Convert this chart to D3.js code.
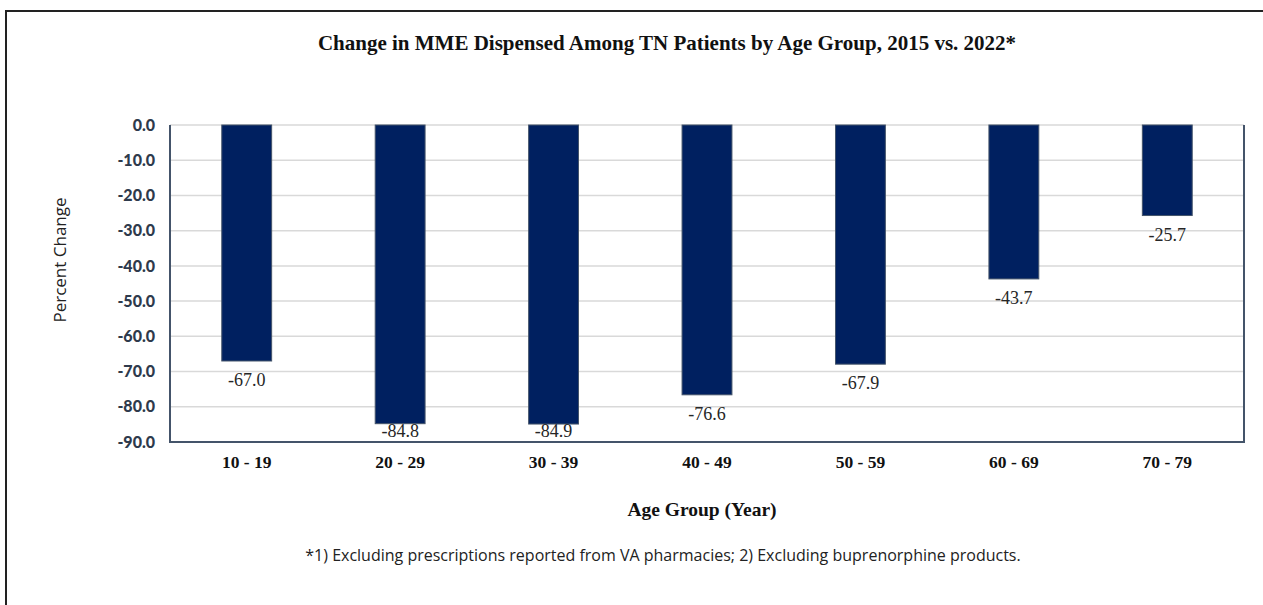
<!DOCTYPE html>
<html>
<head>
<meta charset="utf-8">
<script src="https://cdn.jsdelivr.net/npm/d3@7"></script>
<style>
  body { margin: 0; background: #fff; }
  svg { display: block; }
</style>
</head>
<body>
<svg id="chart" width="1263" height="605"></svg>
<script>
// data
const ageGroups = ['10 - 19', '20 - 29', '30 - 39', '40 - 49', '50 - 59', '60 - 69', '70 - 79']
const pctChange = [-67.0, -84.8, -84.9, -76.6, -67.9, -43.7, -25.7]
const yTicks = [0, -10, -20, -30, -40, -50, -60, -70, -80, -90]

const navy = '#002060'
const slate = '#44546A'
const gridGrey = '#D9D9D9'

const svg = d3.select('#chart')

/* outer frame - only top and left edges show in the crop */
svg.append('rect')
    .attr('x', 6)
    .attr('y', 11)
    .attr('width', 1400)
    .attr('height', 800)
    .attr('fill', 'none')
    .attr('stroke', '#222')
    .attr('stroke-width', 2)

const plot = { left: 170, right: 1244, top: 125, bottom: 442 }

const x = d3.scaleBand()
    .domain(ageGroups)
    .range([plot.left, plot.right])
    .paddingInner(0.675)
    .paddingOuter(0.3375)

const y = d3.scaleLinear()
    .domain([0, -90])
    .range([plot.top, plot.bottom])

// gridlines
svg.append('g')
    .selectAll('line')
    .data(yTicks)
    .join('line')
    .attr('x1', plot.left)
    .attr('x2', plot.right)
    .attr('y1', d => y(d))
    .attr('y2', d => y(d))
    .attr('stroke', gridGrey)
    .attr('stroke-width', 1.5)

// y axis labels (plain hyphen, like Excel)
const yAxis = svg.append('g')
    .attr('transform', `translate(${plot.left},0)`)
    .call(d3.axisLeft(y).tickValues(yTicks).tickFormat(d => d.toFixed(1)).tickSize(0).tickPadding(15))
yAxis.select('.domain').remove()
yAxis.selectAll('text')
    .attr('font-family', 'Lato, sans-serif')
    .attr('font-weight', 900)
    .attr('font-size', 16)
    .attr('fill', '#2E3A4C')

// bars
svg.append('g')
    .selectAll('rect')
    .data(pctChange)
    .join('rect')
    .attr('x', (d, i) => x(ageGroups[i]))
    .attr('y', y(0))
    .attr('width', x.bandwidth())
    .attr('height', d => y(d) - y(0))
    .attr('fill', navy)
    .attr('stroke', slate)
    .attr('stroke-width', 1)

// value labels (Excel pushes them up when they would fall off the plot)
svg.append('g')
    .selectAll('text')
    .data(pctChange)
    .join('text')
    .attr('x', (d, i) => x(ageGroups[i]) + x.bandwidth() / 2)
    .attr('y', d => Math.min(y(d) + 19, plot.bottom - 11))
    .attr('dy', '0.35em')
    .attr('text-anchor', 'middle')
    .attr('font-family', 'Liberation Serif, serif')
    .attr('font-size', 18)
    .attr('fill', '#262626')
    .text(d => d.toFixed(1))

// plot frame: left, bottom and right in slate
svg.append('path')
    .attr('d', `M${plot.left},${plot.top}V${plot.bottom}H${plot.right}V${plot.top}`)
    .attr('fill', 'none')
    .attr('stroke', slate)
    .attr('stroke-width', 2)

// x axis labels
const xAxis = svg.append('g')
    .attr('transform', `translate(0,${plot.bottom})`)
    .call(d3.axisBottom(x).tickSize(0).tickPadding(14))
xAxis.select('.domain').remove()
xAxis.selectAll('text')
    .attr('font-family', 'Liberation Serif, serif')
    .attr('font-weight', 'bold')
    .attr('font-size', 17.5)
    .attr('fill', '#111')

// titles
svg.append('text')
    .attr('x', 667)
    .attr('y', 50)
    .attr('text-anchor', 'middle')
    .attr('font-family', 'Liberation Serif, serif')
    .attr('font-weight', 'bold')
    .attr('font-size', 21)
    .attr('fill', '#111')
    .text('Change in MME Dispensed Among TN Patients by Age Group, 2015 vs. 2022*')

svg.append('text')
    .attr('x', 702)
    .attr('y', 516)
    .attr('text-anchor', 'middle')
    .attr('font-family', 'Liberation Serif, serif')
    .attr('font-weight', 'bold')
    .attr('font-size', 19.5)
    .attr('fill', '#111')
    .text('Age Group (Year)')

svg.append('text')
    .attr('transform', 'translate(66,260) rotate(-90)')
    .attr('text-anchor', 'middle')
    .attr('font-family', 'Open Sans, sans-serif')
    .attr('font-size', 17)
    .attr('fill', '#222')
    .text('Percent Change')

svg.append('text')
    .attr('x', 663)
    .attr('y', 561)
    .attr('text-anchor', 'middle')
    .attr('font-family', 'Open Sans, sans-serif')
    .attr('font-size', 16)
    .attr('fill', '#222')
    .text('*1) Excluding prescriptions reported from VA pharmacies; 2) Excluding buprenorphine products.')
</script>
</body>
</html>
